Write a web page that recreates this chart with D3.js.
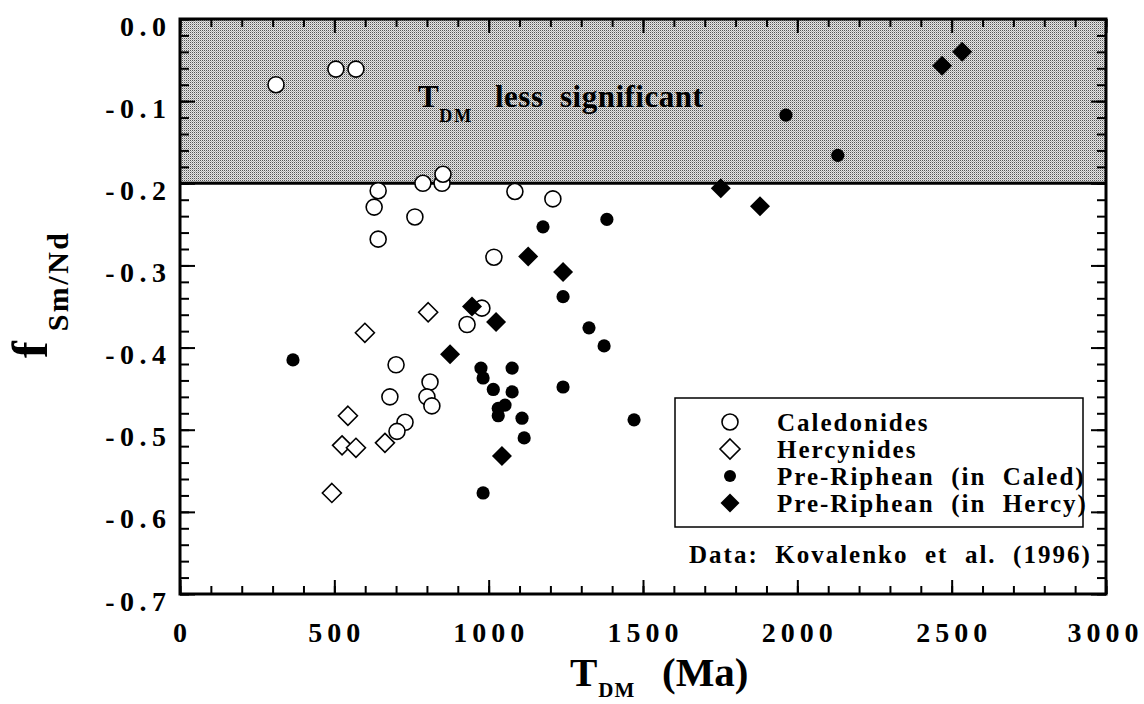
<!DOCTYPE html>
<html>
<head>
<meta charset="utf-8">
<script src="https://cdn.jsdelivr.net/npm/d3@7"></script>
<style>
  html, body { margin: 0; padding: 0; background: #fff; }
  svg { display: block; font-family: "Liberation Serif", "Times New Roman", serif; font-weight: bold; }
</style>
</head>
<body>
<svg id="chart" width="1144" height="704"></svg>
<script>
// ---- Data ----
const caledonidesX = [311, 505, 570, 642, 629, 642, 761, 787, 849, 852, 1085, 1208, 1017, 978, 930, 700, 810, 680, 800, 816, 729, 703];
const caledonidesY = [-0.080, -0.061, -0.061, -0.209, -0.229, -0.268, -0.241, -0.200, -0.200, -0.189, -0.210, -0.219, -0.290, -0.352, -0.372, -0.421, -0.442, -0.460, -0.460, -0.471, -0.491, -0.502];

const hercynidesX = [492, 525, 570, 664, 544, 599, 804];
const hercynidesY = [-0.577, -0.519, -0.522, -0.516, -0.483, -0.382, -0.357];

const preCaledX = [366, 975, 982, 1076, 1015, 1076, 1031, 1053, 1031, 1108, 1115, 982, 1241, 1241, 1325, 1374, 1471, 1176, 1383, 1963, 2131];
const preCaledY = [-0.415, -0.425, -0.437, -0.425, -0.451, -0.454, -0.474, -0.470, -0.483, -0.486, -0.510, -0.577, -0.338, -0.448, -0.376, -0.398, -0.488, -0.253, -0.244, -0.117, -0.166];

const preHercyX = [875, 946, 1024, 1043, 1128, 1241, 1752, 1879, 2469, 2534];
const preHercyY = [-0.408, -0.350, -0.369, -0.532, -0.289, -0.308, -0.206, -0.228, -0.057, -0.040];

const xTickValues = [0, 500, 1000, 1500, 2000, 2500, 3000];
const xTickLabels = ["0", "500", "1000", "1500", "2000", "2500", "3000"];
const yTickValues = [0, -0.1, -0.2, -0.3, -0.4, -0.5, -0.6, -0.7];
const yTickLabels = ["0.0", "-0.1", "-0.2", "-0.3", "-0.4", "-0.5", "-0.6", "-0.7"];

const legendLabels = ["Caledonides", "Hercynides", "Pre-Riphean  (in  Caled)", "Pre-Riphean  (in  Hercy)"];
const thresholdValue = -0.2;

// ---- Layout ----
const svg = d3.select("#chart");
const mLeft = 180, mRight = 1106, mTop = 19, mBottom = 594;
const x = d3.scaleLinear().domain([0, 3000]).range([mLeft, mRight]);
const y = d3.scaleLinear().domain([-0.7, 0]).range([mBottom, mTop]);

// stipple pattern
const defs = svg.append("defs");
const pat = defs.append("pattern").attr("id", "stipple").attr("patternUnits", "userSpaceOnUse")
  .attr("width", 2).attr("height", 2);
pat.append("rect").attr("width", 2).attr("height", 2).attr("fill", "#e6e6e6");
pat.append("rect").attr("x", 0).attr("y", 0).attr("width", 1).attr("height", 1).attr("fill", "#555").attr("shape-rendering", "crispEdges");
pat.append("rect").attr("x", 1).attr("y", 1).attr("width", 1).attr("height", 1).attr("fill", "#b0b0b0").attr("shape-rendering", "crispEdges");

// shaded region
svg.append("rect")
  .attr("x", x(0)).attr("y", y(0))
  .attr("width", x(3000) - x(0)).attr("height", y(thresholdValue) - y(0))
  .attr("fill", "url(#stipple)");

// shaded label
const shadeText = svg.append("text").attr("x", 418).attr("y", 107)
  .attr("font-size", 31).attr("fill", "#000").attr("letter-spacing", 0.5);
shadeText.append("tspan").text("T");
shadeText.append("tspan").attr("font-size", 18).attr("dy", 15).attr("letter-spacing", 2).text("DM");
shadeText.append("tspan").attr("dy", -15).attr("x", 495).style("white-space", "pre").text("less  significant");

// ---- Axes ----
function tickStyle(g) {
  g.select(".domain").remove();
  g.selectAll("line").attr("stroke", "#000").attr("stroke-width", 2);
  g.selectAll("text").remove();
}
const xMinor = d3.range(0, 3001, 100);
const yMinor = d3.range(0, 36).map(i => -i * 0.02);

svg.append("g").attr("transform", `translate(0,${mBottom})`)
  .call(d3.axisBottom(x).tickValues(xMinor).tickSize(-8)).call(tickStyle);
svg.append("g").attr("transform", `translate(0,${mBottom})`)
  .call(d3.axisBottom(x).tickValues(xTickValues).tickSize(-14)).call(tickStyle);
svg.append("g").attr("transform", `translate(0,${mTop})`)
  .call(d3.axisTop(x).tickValues(xMinor).tickSize(-8)).call(tickStyle);
svg.append("g").attr("transform", `translate(0,${mTop})`)
  .call(d3.axisTop(x).tickValues(xTickValues).tickSize(-14)).call(tickStyle);
svg.append("g").attr("transform", `translate(${mLeft},0)`)
  .call(d3.axisLeft(y).tickValues(yMinor).tickSize(-9)).call(tickStyle);
svg.append("g").attr("transform", `translate(${mLeft},0)`)
  .call(d3.axisLeft(y).tickValues(yTickValues).tickSize(-15)).call(tickStyle);
svg.append("g").attr("transform", `translate(${mRight},0)`)
  .call(d3.axisRight(y).tickValues(yMinor).tickSize(-9)).call(tickStyle);
svg.append("g").attr("transform", `translate(${mRight},0)`)
  .call(d3.axisRight(y).tickValues(yTickValues).tickSize(-15)).call(tickStyle);

// threshold line
svg.append("line")
  .attr("x1", x(0)).attr("x2", x(3000))
  .attr("y1", y(thresholdValue)).attr("y2", y(thresholdValue))
  .attr("stroke", "#000").attr("stroke-width", 3);

// frame
svg.append("rect")
  .attr("x", x(0)).attr("y", y(0))
  .attr("width", x(3000) - x(0)).attr("height", y(-0.7) - y(0))
  .attr("fill", "none").attr("stroke", "#000").attr("stroke-width", 3);

// tick labels
const lsX = 5, lsY = 5.5;
svg.append("g").selectAll("text").data(xTickValues).join("text")
  .attr("x", d => x(d) + lsX / 2 - (d === 3000 ? 3 : 0)).attr("y", 642)
  .attr("text-anchor", "middle").attr("font-size", 28).attr("letter-spacing", lsX)
  .text((d, i) => xTickLabels[i]);
svg.append("g").selectAll("text").data(yTickValues).join("text")
  .attr("x", 166 + lsY).attr("y", d => y(d) + 16.5)
  .attr("text-anchor", "end").attr("font-size", 28).attr("letter-spacing", lsY)
  .text((d, i) => yTickLabels[i]);

// axis titles
const xt = svg.append("text").attr("x", 570).attr("y", 686).attr("font-size", 41);
xt.append("tspan").text("T");
xt.append("tspan").attr("font-size", 21).attr("dy", 11).attr("dx", 1).attr("letter-spacing", 1).text("DM");
xt.append("tspan").attr("dy", -11).attr("x", 662).text("(Ma)");

const yt = svg.append("text").attr("transform", "translate(47,358) rotate(-90)").attr("font-size", 50);
yt.append("tspan").text("f");
yt.append("tspan").attr("font-size", 30).attr("dy", 21).attr("dx", 10).attr("letter-spacing", 2.5).text("Sm/Nd");

// ---- Markers ----
const diamondPath = h => `M0,${-h}L${h},0L0,${h}L${-h},0Z`;
function drawCircles(xs, ys, r, fill, stroke, sw) {
  svg.append("g").selectAll("circle").data(xs).join("circle")
    .attr("cx", d => x(d)).attr("cy", (d, i) => y(ys[i])).attr("r", r)
    .attr("fill", fill).attr("stroke", stroke).attr("stroke-width", sw);
}
function drawDiamonds(xs, ys, h, fill, stroke, sw) {
  svg.append("g").selectAll("path").data(xs).join("path")
    .attr("transform", (d, i) => `translate(${x(d)},${y(ys[i])})`)
    .attr("d", diamondPath(h))
    .attr("fill", fill).attr("stroke", stroke).attr("stroke-width", sw);
}
drawCircles(caledonidesX, caledonidesY, 8, "#fff", "#000", 1.6);
drawDiamonds(hercynidesX, hercynidesY, 9.5, "#fff", "#000", 1.6);
drawCircles(preCaledX, preCaledY, 6.6, "#000", "none", 0);
drawDiamonds(preHercyX, preHercyY, 10, "#000", "none", 0);

// ---- Legend ----
svg.append("rect").attr("x", 675).attr("y", 398).attr("width", 408).attr("height", 129)
  .attr("fill", "#fff").attr("stroke", "#000").attr("stroke-width", 1.5);
const rows = [422, 449, 476, 503];
const lg = svg.append("g");
lg.append("circle").attr("cx", 730).attr("cy", rows[0]).attr("r", 8).attr("fill", "#fff").attr("stroke", "#000").attr("stroke-width", 1.6);
lg.append("path").attr("transform", `translate(730,${rows[1]})`).attr("d", diamondPath(10)).attr("fill", "#fff").attr("stroke", "#000").attr("stroke-width", 1.6);
lg.append("circle").attr("cx", 730).attr("cy", rows[2]).attr("r", 6).attr("fill", "#000");
lg.append("path").attr("transform", `translate(730,${rows[3]})`).attr("d", diamondPath(9.5)).attr("fill", "#000");
lg.selectAll("text").data(legendLabels).join("text")
  .attr("x", 777).attr("y", (d, i) => rows[i] + 9)
  .attr("font-size", 25).attr("letter-spacing", 2)
  .style("white-space", "pre")
  .text(d => d);

svg.append("text").attr("x", 689).attr("y", 563).attr("font-size", 25).attr("letter-spacing", 2)
  .style("white-space", "pre")
  .text("Data:  Kovalenko  et  al.  (1996)");
</script>
</body>
</html>
